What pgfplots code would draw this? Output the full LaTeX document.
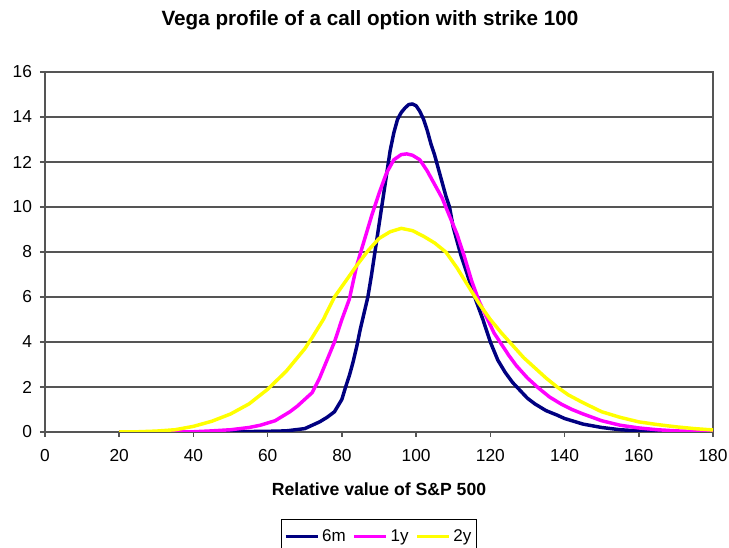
\documentclass[border=0pt]{standalone}
\usepackage{fontspec}
\setmainfont{Liberation Sans}
\usepackage{pgfplots}
\pgfplotsset{compat=1.18}
\definecolor{sixm}{RGB}{0,0,128}
\definecolor{oney}{RGB}{255,0,255}
\definecolor{twoy}{RGB}{255,255,0}
\definecolor{axgray}{RGB}{85,85,85}

\begin{document}
\begin{tikzpicture}[x=1pt,y=1pt]
\path[use as bounding box] (0,0) rectangle (546.75,411);
\begin{axis}[
  at={(33.75pt,87pt)}, anchor=south west,
  scale only axis, width=501pt, height=270pt,
  xmin=0, xmax=180, ymin=0, ymax=16,
  xtick={0,20,...,180}, ytick={0,2,...,16},
  xtick pos=left, ytick pos=left,
  tick align=outside, major tick length=3.75pt,
  ymajorgrids,
  grid style={axgray, line width=1.1pt},
  axis line style={axgray, line width=1.1pt},
  tick style={axgray, line width=1.1pt},
  tick label style={font=\fontsize{13}{15}\selectfont},
  xticklabel style={yshift=-5.5pt},
  yticklabel style={xshift=-2.5pt},
  /pgf/number format/assume math mode=true,
  title={Vega profile of a call option with strike 100},
  title style={at={(axis description cs:0.4865,1)}, anchor=base,
    yshift=29pt, font=\bfseries\fontsize{15.5}{18}\selectfont},
  xlabel={Relative value of S\&P 500},
  xlabel style={at={(axis description cs:0.5,0)}, anchor=base,
    yshift=-47.5pt, font=\bfseries\fontsize{13.2}{15}\selectfont},
  legend columns=3,
  legend style={at={(axis description cs:0.5,-0.2417)}, anchor=north,
    draw=black, line width=0.9pt, inner ysep=5.5pt, inner xsep=2pt,
    font=\fontsize{12.75}{14}\selectfont,
    /tikz/every even column/.append style={column sep=3pt}},
  legend image code/.code={\draw[#1] (0pt,0pt) -- (24pt,0pt);},
  every axis plot/.append style={line width=2.6pt, line join=round, no marks},
]
\addplot[sixm] coordinates {
(20,0) (30,0) (40,0) (50,0.01) (55,0.02) (60,0.03) (65,0.05) (70,0.15)
(72,0.3) (74,0.45) (76,0.65) (78,0.9) (80,1.45) (81,2.0) (82,2.5) (83,3.1)
(84,3.8) (85,4.6) (86,5.3) (87,6.0) (88,7.0) (89,8.1) (90,9.2) (91,10.3)
(92,11.4) (93,12.5) (94,13.3) (95,13.9) (96,14.2) (97,14.4) (98,14.55)
(99,14.58) (100,14.5) (101,14.25) (102,13.9) (103,13.4) (104,12.8)
(105,12.3) (106,11.7) (107,11.1) (108,10.5) (109,10.0) (110,9.1) (111,8.5)
(112,7.9) (114,6.9) (116,5.9) (118,5.0) (120,4.0) (122,3.2) (124,2.65)
(126,2.2) (128,1.85) (130,1.5) (132,1.25) (135,0.95) (138,0.75) (140,0.6)
(142,0.5) (145,0.35) (150,0.2) (155,0.1) (160,0.05) (165,0.02) (170,0.01)
(180,0)
};
\addlegendentry{6m}
\addplot[oney] coordinates {
(20,0) (30,0) (40,0.01) (45,0.05) (50,0.1) (55,0.2) (58,0.3) (60,0.4)
(62,0.5) (64,0.7) (66,0.9) (68,1.15) (70,1.45) (72,1.75) (74,2.4) (76,3.2)
(78,4.0) (80,5.0) (82,5.9) (84,7.4) (86,8.5) (88,9.6) (90,10.6) (92,11.5)
(94,12.1) (96,12.33) (97.5,12.36) (99,12.3) (101,12.1) (103,11.6)
(105,11.0) (107,10.4) (109,9.6) (111,8.8) (113,7.8) (115,6.7) (117,5.8)
(119,5.1) (121,4.4) (123,3.9) (125,3.4) (127,2.95) (130,2.4) (133,1.95)
(136,1.55) (139,1.25) (142,1.0) (145,0.8) (150,0.5) (155,0.3) (160,0.18)
(165,0.1) (170,0.05) (175,0.02) (180,0.01)
};
\addlegendentry{1y}
\addplot[twoy] coordinates {
(20,0) (25,0.01) (30,0.04) (35,0.1) (40,0.25) (45,0.48) (50,0.8) (55,1.25)
(60,1.9) (65,2.7) (70,3.7) (72,4.2) (75,5.0) (78,6.0) (81,6.7) (84,7.4)
(87,8.05) (90,8.6) (93,8.9) (96,9.05) (99,8.95) (102,8.7) (105,8.4)
(108,8.0) (111,7.3) (114,6.5) (117,5.7) (120,5.0) (123,4.4) (126,3.85)
(129,3.3) (132,2.85) (135,2.4) (138,2.0) (141,1.65) (145,1.3) (150,0.9)
(155,0.65) (160,0.45) (165,0.33) (170,0.23) (175,0.15) (180,0.09)
};
\addlegendentry{2y}
\end{axis}
\end{tikzpicture}
\end{document}
